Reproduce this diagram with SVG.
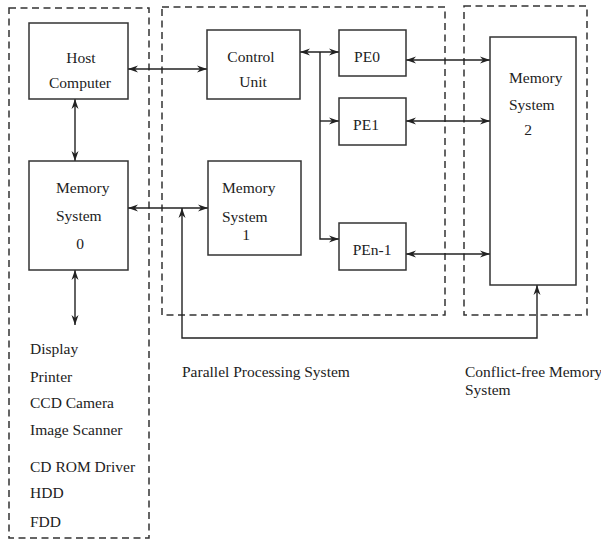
<svg xmlns="http://www.w3.org/2000/svg" width="601" height="541" viewBox="0 0 601 541">
<defs>
<marker id="ah" viewBox="0 0 10 8" refX="10" refY="4" markerWidth="10" markerHeight="8" markerUnits="userSpaceOnUse" orient="auto-start-reverse">
<path d="M0,0.5 L10,4 L0,7.5 L3,4 Z" fill="#222"/>
</marker>
</defs>
<style>
.bg{fill:#fff}
.dash{fill:none;stroke:#333;stroke-width:1.5;stroke-dasharray:7 4.5}
.box{fill:#fff;stroke:#333;stroke-width:1.5}
.ln{fill:none;stroke:#222;stroke-width:1.4}
.ar{marker-start:url(#ah);marker-end:url(#ah)}
.ae{marker-end:url(#ah)}
text{font-family:"Liberation Serif","Times New Roman",serif;font-size:15.5px;fill:#222}
.c{text-anchor:middle}
</style>
<rect class="bg" x="0" y="0" width="601" height="541"/>
<g id="groups">
<rect class="dash" x="9" y="8" width="140" height="530"/>
<rect class="dash" x="162" y="7" width="283" height="308"/>
<rect class="dash" x="464" y="6" width="123" height="309"/>
</g>
<g id="connectors">
<line class="ln ar" x1="75" y1="99" x2="75" y2="161"/>
<line class="ln ar" x1="75" y1="270" x2="75" y2="325"/>
<line class="ln ar" x1="128" y1="69" x2="207" y2="69"/>
<line class="ln ar" x1="128" y1="208" x2="208" y2="208"/>
<line class="ln ar" x1="300" y1="52" x2="339" y2="52"/>
<path class="ln ae" d="M320,52 V239 H339"/>
<line class="ln ae" x1="320" y1="121" x2="339" y2="121"/>
<line class="ln ar" x1="406" y1="60" x2="490" y2="60"/>
<line class="ln ar" x1="406" y1="121" x2="490" y2="121"/>
<line class="ln ar" x1="406" y1="254" x2="490" y2="254"/>
<path class="ln ar" d="M182,208 V338 H537 V285"/>
</g>
<g id="host">
<rect class="box" x="29" y="23" width="99" height="76"/>
<text class="c" x="81" y="63">Host</text>
<text class="c" x="80" y="88">Computer</text>
</g>
<g id="mem0">
<rect class="box" x="29" y="161" width="99" height="109"/>
<text x="56" y="193">Memory</text>
<text x="56" y="221">System</text>
<text class="c" x="80" y="249">0</text>
</g>
<g id="control">
<rect class="box" x="207" y="30" width="93" height="69"/>
<text class="c" x="251" y="62">Control</text>
<text class="c" x="253" y="87">Unit</text>
</g>
<g id="mem1">
<rect class="box" x="208" y="161" width="93" height="94"/>
<text x="222" y="193">Memory</text>
<text x="222" y="222">System</text>
<text class="c" x="246" y="240">1</text>
</g>
<g id="pe0">
<rect class="box" x="339" y="30" width="67" height="46"/>
<text class="c" x="367" y="62">PE0</text>
</g>
<g id="pe1">
<rect class="box" x="339" y="98" width="67" height="47"/>
<text class="c" x="366" y="130">PE1</text>
</g>
<g id="pen1">
<rect class="box" x="339" y="223" width="67" height="47"/>
<text class="c" x="372" y="255">PEn-1</text>
</g>
<g id="mem2">
<rect class="box" x="490" y="37" width="86" height="248"/>
<text x="509" y="83">Memory</text>
<text x="509" y="110">System</text>
<text class="c" x="528" y="135">2</text>
</g>
<g id="labels">
<text x="30" y="354">Display</text>
<text x="30" y="382">Printer</text>
<text x="30" y="408">CCD Camera</text>
<text x="30" y="435">Image Scanner</text>
<text x="30" y="472">CD ROM Driver</text>
<text x="30" y="498">HDD</text>
<text x="30" y="527">FDD</text>
<text x="182" y="377">Parallel Processing System</text>
<text x="465" y="377">Conflict-free Memory</text>
<text x="465" y="395">System</text>
</g>
</svg>
